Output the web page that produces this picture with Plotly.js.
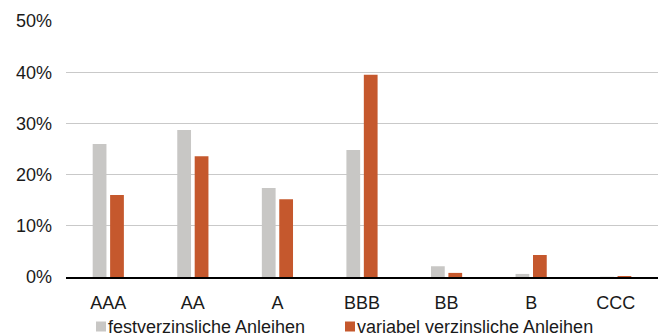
<!DOCTYPE html>
<html><head><meta charset="utf-8">
<script src="https://cdn.plot.ly/plotly-3.0.1.min.js"></script>
<style>html,body{margin:0;padding:0;background:#fff}#c{width:662px;height:334px}</style>
</head><body><div id="c"></div>
<script>
const categories = ["AAA","AA","A","BBB","BB","B","CCC"];
const festverzinslich = [0.26, 0.287, 0.174, 0.248, 0.021, 0.006, 0.0005];
const variabel = [0.160, 0.236, 0.152, 0.395, 0.008, 0.043, 0.002];
const seriesNames = ["festverzinsliche Anleihen", "variabel verzinsliche Anleihen"];
const colors = ["#c8c7c5", "#c5582d"];
const fnt = {family: "Liberation Sans, Arial, sans-serif", size: 18, color: "#1a1a1a"};
const traces = [
  {type:"bar", x:categories, y:festverzinslich, name:seriesNames[0], marker:{color:colors[0]}},
  {type:"bar", x:categories, y:variabel, name:seriesNames[1], marker:{color:colors[1]}}
];
// legend drawn as squares + text below the plot (positions in paper units)
const plotL = 66, plotW = 592, plotB = 277, plotH = 256;
const px = v => (v - plotL) / plotW;
const py = v => (plotB - v) / plotH;
const legendItems = [{sq:96, tx:107}, {sq:345, tx:356}];
const shapes = legendItems.map((it, i) => ({
  type:"rect", xref:"paper", yref:"paper",
  x0:px(it.sq), x1:px(it.sq + 10), y0:py(331.5), y1:py(321.5),
  fillcolor:colors[i], line:{width:0}
}));
const annotations = legendItems.map((it, i) => ({
  xref:"paper", yref:"paper", x:px(it.tx), y:py(326.5), xanchor:"left", yanchor:"middle",
  text:seriesNames[i], showarrow:false, font:fnt, borderpad:0
}));
const layout = {
  width:662, height:334,
  margin:{l:66, r:4, t:21, b:57},
  paper_bgcolor:"#fff", plot_bgcolor:"#fff",
  barmode:"group", bargap:0.588, bargroupgap:0.21,
  font:fnt,
  showlegend:false,
  shapes:shapes, annotations:annotations,
  xaxis:{tickfont:fnt, showgrid:false, showline:true, linecolor:"#000", linewidth:1.5, ticks:"", ticklabelstandoff:9, automargin:false, fixedrange:true},
  yaxis:{range:[0,0.5], dtick:0.1, tickformat:".0%", tickfont:fnt, gridcolor:"#c9c9c9", gridwidth:1.3, zeroline:false, ticks:"", ticklabelstandoff:13, automargin:false, fixedrange:true}
};
Plotly.newPlot("c", traces, layout, {displayModeBar:false, staticPlot:true});
</script></body></html>
